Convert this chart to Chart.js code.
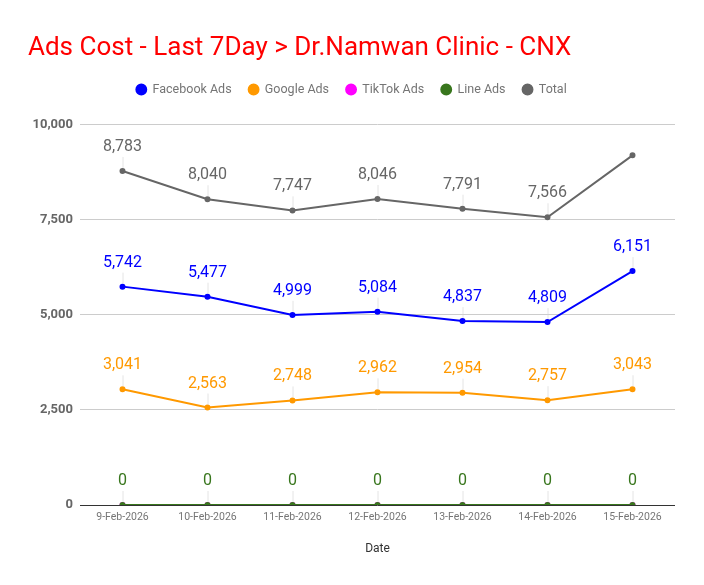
<!DOCTYPE html>
<html><head><meta charset="utf-8">
<script src="https://cdn.jsdelivr.net/npm/chart.js@4/dist/chart.umd.min.js"></script>
<style>html,body{margin:0;padding:0;background:#fff}#wrap{width:704px;height:585px}</style>
</head><body><div id="wrap"><canvas id="c"></canvas></div>
<script>
const categories = ["9-Feb-2026","10-Feb-2026","11-Feb-2026","12-Feb-2026","13-Feb-2026","14-Feb-2026","15-Feb-2026"];
const facebookAds = [5742,5477,4999,5084,4837,4809,6151];
const googleAds = [3041,2563,2748,2962,2954,2757,3043];
const tiktokAds = [0,0,0,0,0,0,0];
const lineAds = [0,0,0,0,0,0,0];
const totalCost = [8783,8040,7747,8046,7791,7566,9194];
const yTicks = [0,2500,5000,7500,10000];

const FONT = "Roboto";
const labelPlugin = {
  id:'dlabels',
  afterDatasetsDraw(chart){
    const ctx = chart.ctx;
    ctx.save();
    ctx.font = "16px " + FONT;
    ctx.textAlign = 'center';
    ctx.textBaseline = 'middle';
    chart.data.datasets.forEach((ds,di)=>{
      if(!ds.showLabels) return;
      const meta = chart.getDatasetMeta(di);
      meta.data.forEach((pt,i)=>{
        if(ds.hideLabelAt && ds.hideLabelAt.includes(i)) return;
        const v = ds.data[i];
        ctx.strokeStyle = 'rgba(210,210,210,0.6)';
        ctx.lineWidth = 1;
        ctx.beginPath();
        ctx.moveTo(pt.x+0.5, pt.y-3);
        ctx.lineTo(pt.x+0.5, pt.y-14);
        ctx.stroke();
        ctx.fillStyle = ds.borderColor;
        ctx.fillText(v.toLocaleString('en-US'), pt.x, pt.y-24);
      });
    });
    ctx.restore();
  }
};
const legendGap = {
  id:'legendGap',
  beforeInit(chart){
    const lg = chart.legend;
    if(!lg) return;
    const fit = lg.fit;
    lg.fit = function(){ fit.call(this); this.height += 19; };
  }
};

function mk(label,data,color,extra){
  return Object.assign({label,data,borderColor:color,backgroundColor:color,borderWidth:2,pointRadius:2,pointHoverRadius:2,tension:0,showLabels:true,order:0},extra||{});
}

new Chart(document.getElementById('c'),{
  type:'line',
  data:{labels:categories,datasets:[
    mk('Facebook Ads',facebookAds,'#0000ff'),
    mk('Google Ads',googleAds,'#ff9900'),
    mk('TikTok Ads',tiktokAds,'#ff00ff',{showLabels:false,order:2}),
    mk('Line Ads',lineAds,'#38761d',{order:1}),
    mk('Total',totalCost,'#666666',{hideLabelAt:[6]})
  ]},
  options:{
    responsive:true,maintainAspectRatio:false,animation:false,
    layout:{padding:{left:28,right:29,top:0,bottom:25}},
    plugins:{
      title:{display:true,text:'Ads Cost - Last 7Day > Dr.Namwan Clinic - CNX',align:'start',color:'#ff0000',font:{family:FONT,size:26,weight:'normal'},padding:{top:33,bottom:2}},
      legend:{display:true,labels:{usePointStyle:true,pointStyle:'circle',boxWidth:10,boxHeight:7,padding:17,color:'#757575',font:{family:FONT,size:12.5},sort:(a,b)=>a.datasetIndex-b.datasetIndex}},
      tooltip:{enabled:false}
    },
    scales:{
      x:{offset:true,grid:{display:false,drawTicks:false},border:{display:false},ticks:{color:'#757575',font:{family:FONT,size:10.5},padding:6,maxRotation:0},
         title:{display:true,text:'Date',color:'#333333',font:{family:FONT,size:12},padding:{top:12}}},
      y:{min:0,max:10000,afterBuildTicks(s){s.ticks=yTicks.map(v=>({value:v}));},afterFit(s){s.width=52;},
         grid:{color:(c)=>c.tick.value===0?'#333333':'#cccccc',drawTicks:false,lineWidth:1},border:{display:false},
         ticks:{padding:7,color:'#666666',font:{family:FONT,size:13,weight:'bold'},callback:v=>v.toLocaleString('en-US')}}
    }
  },
  plugins:[labelPlugin,legendGap]
});
</script></body></html>
